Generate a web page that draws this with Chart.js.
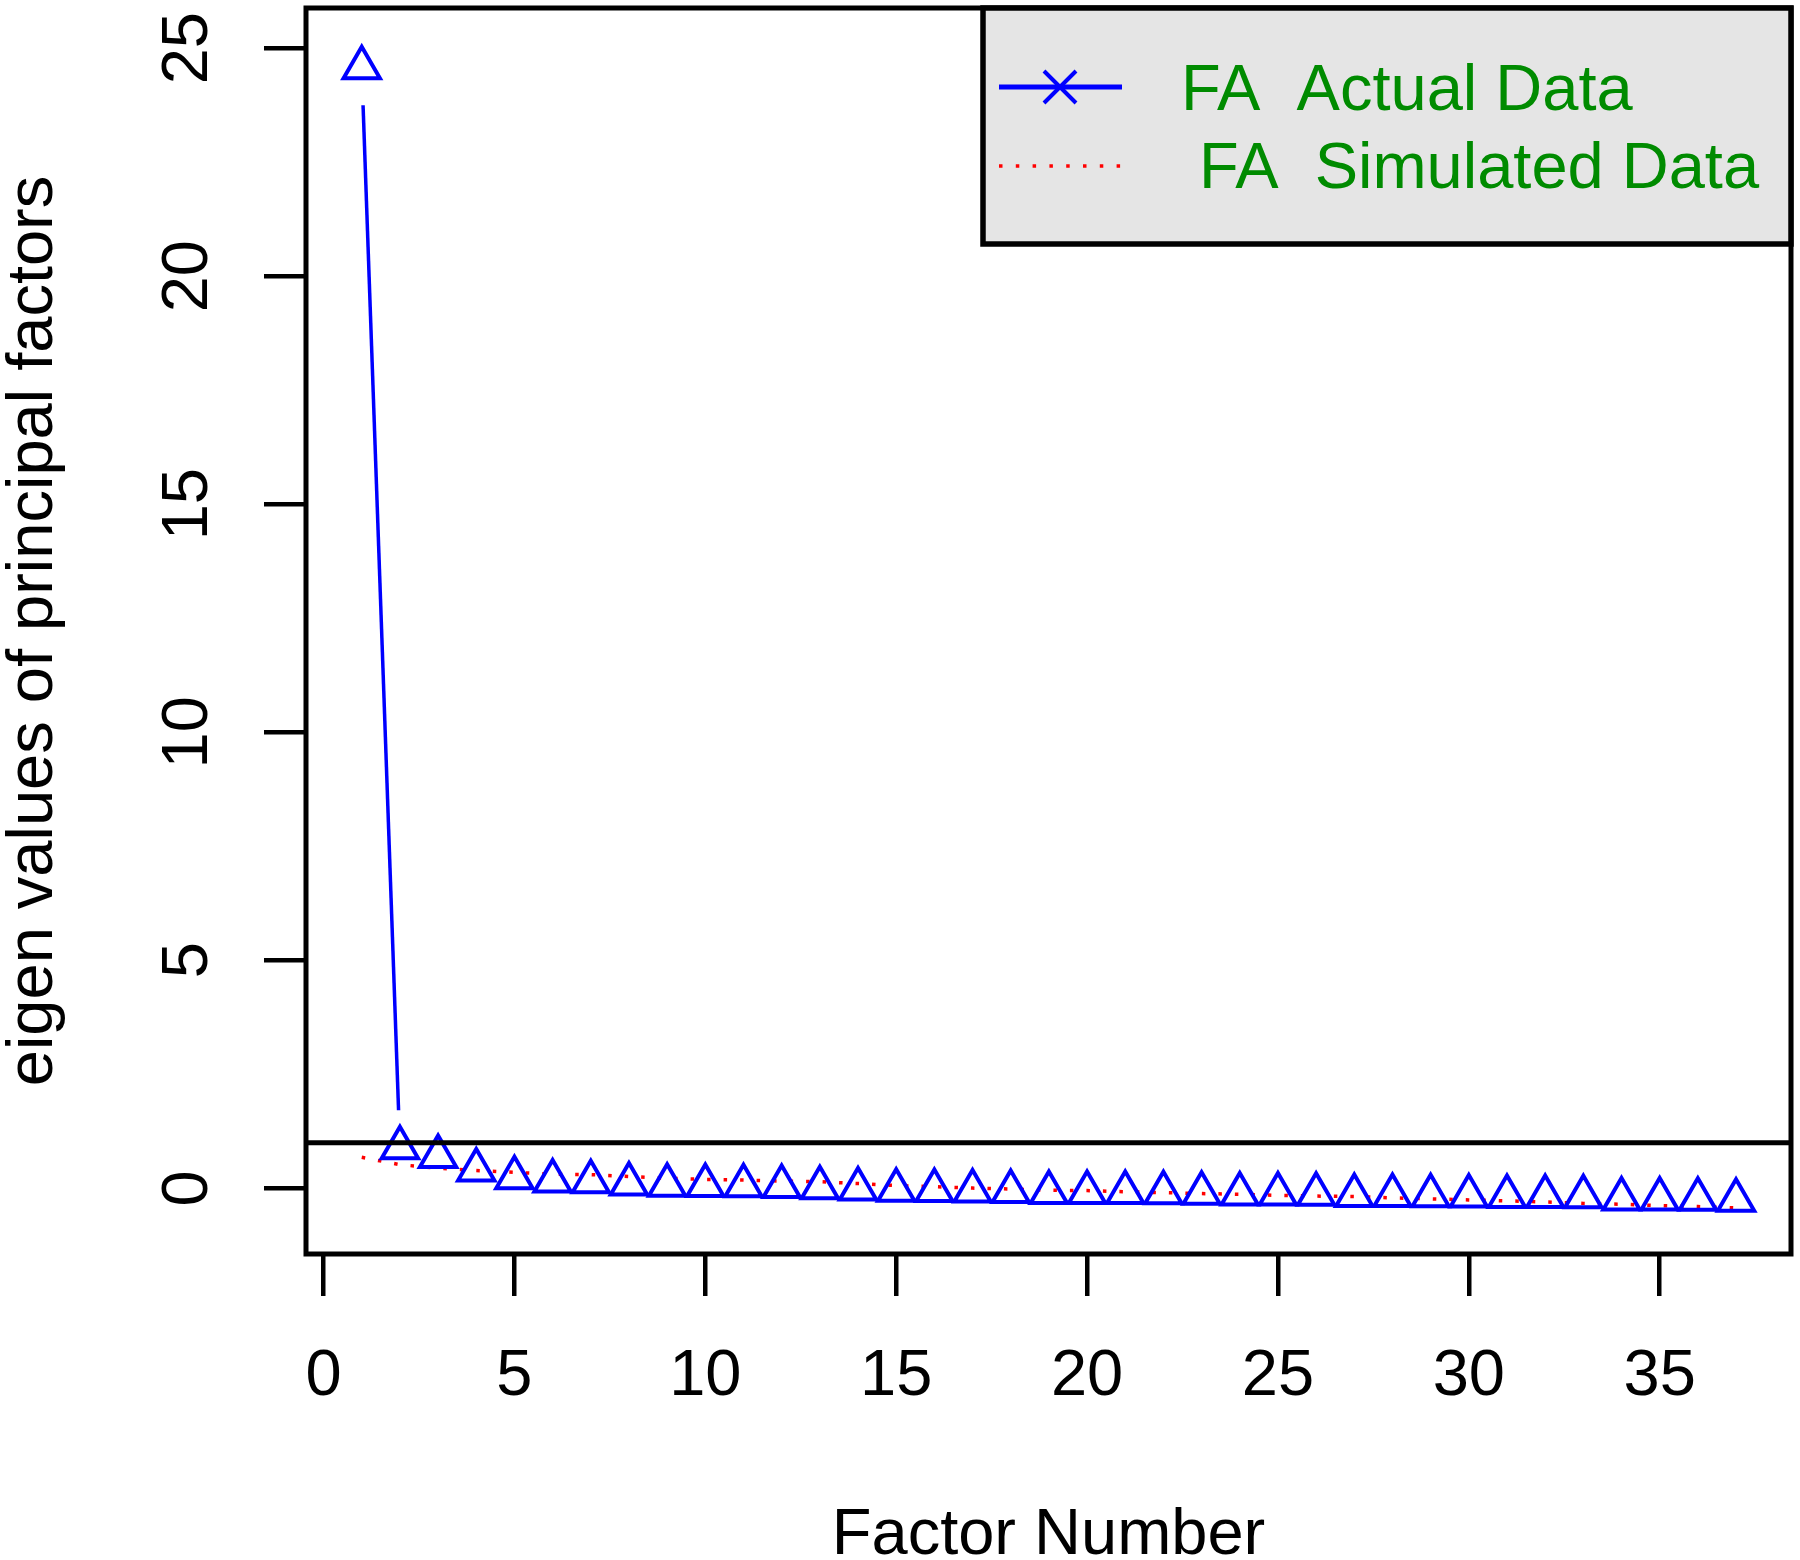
<!DOCTYPE html>
<html>
<head>
<meta charset="utf-8">
<script src="https://cdn.jsdelivr.net/npm/chart.js@4.4.1/dist/chart.umd.min.js"></script>
<style>
html,body{margin:0;padding:0;background:#ffffff;}
#wrap{width:1800px;height:1560px;}
</style>
</head>
<body>
<div id="wrap"><canvas id="c" width="1800" height="1560"></canvas></div>
<script>
// ---- data ----
const factorNumbers = [1,2,3,4,5,6,7,8,9,10,11,12,13,14,15,16,17,18,19,20,21,22,23,24,25,26,27,28,29,30,31,32,33,34,35,36,37];
const actualEigen = [24.57,0.89,0.70,0.40,0.23,0.16,0.145,0.095,0.07,0.06,0.055,0.04,0.015,-0.015,-0.04,-0.05,-0.06,-0.07,-0.09,-0.09,-0.09,-0.095,-0.11,-0.125,-0.125,-0.13,-0.16,-0.16,-0.165,-0.17,-0.18,-0.18,-0.185,-0.235,-0.235,-0.24,-0.26];
const simulatedEigen = [0.68,0.52,0.44,0.39,0.35,0.31,0.30,0.26,0.22,0.195,0.18,0.16,0.145,0.105,0.06,0.035,0.005,-0.015,-0.04,-0.05,-0.075,-0.095,-0.115,-0.13,-0.155,-0.17,-0.18,-0.21,-0.23,-0.255,-0.275,-0.30,-0.33,-0.35,-0.38,-0.40,-0.43];
const xTickValues = [0,5,10,15,20,25,30,35];
const yTickValues = [0,5,10,15,20,25];
const seriesLabels = ['FA  Actual Data', ' FA  Simulated Data'];
const xTitle = 'Factor Number';
const yTitle = 'eigen values of principal factors';
const referenceLevel = 1;
const xRange = [-0.46, 38.44];
const yRange = [-1.44, 25.88];

// ---- styling ----
const FONT = "'Liberation Sans', Arial, Helvetica, sans-serif";
const BLUE = '#0000ff';
const RED = '#ff0000';
const GREEN = '#008b00';

const rStyle = {
  id: 'rStyle',
  afterDatasetsDraw(chart) {
    const {ctx, chartArea: a, scales: {y}} = chart;
    ctx.save();
    // type "b" connecting segments with gaps around the points
    const meta = chart.getDatasetMeta(0);
    const gap = 37.5;
    ctx.strokeStyle = BLUE; ctx.lineWidth = 3.5; ctx.lineCap = 'butt';
    for (let i = 0; i < meta.data.length - 1; i++) {
      const p = meta.data[i], q = meta.data[i + 1];
      const dx = q.x - p.x, dy = q.y - p.y, L = Math.hypot(dx, dy);
      if (L > 2 * gap) {
        const ux = dx / L, uy = dy / L;
        ctx.beginPath();
        ctx.moveTo(p.x + ux * gap, p.y + uy * gap);
        ctx.lineTo(q.x - ux * gap, q.y - uy * gap);
        ctx.stroke();
      }
    }
    // reference line
    const yr = y.getPixelForValue(referenceLevel);
    ctx.strokeStyle = '#000'; ctx.lineWidth = 5;
    ctx.beginPath(); ctx.moveTo(a.left, yr); ctx.lineTo(a.right, yr); ctx.stroke();
    // plot box
    ctx.strokeRect(a.left, a.top, a.right - a.left, a.bottom - a.top);
    // legend
    const lw = 808, lh = 236;
    const lx = a.right - lw, ly = a.top;
    ctx.fillStyle = '#e5e5e5';
    ctx.fillRect(lx, ly, lw, lh);
    ctx.lineWidth = 5.5; ctx.strokeStyle = '#000';
    ctx.strokeRect(lx, ly, lw, lh);
    const r1 = ly + 79, r2 = ly + 158;
    // row 1: blue line with x marker
    ctx.strokeStyle = BLUE; ctx.lineWidth = 5;
    ctx.beginPath(); ctx.moveTo(lx + 16, r1); ctx.lineTo(lx + 139, r1); ctx.stroke();
    const cx = lx + 77, h = 16;
    ctx.lineWidth = 4;
    ctx.beginPath();
    ctx.moveTo(cx - h, r1 - h); ctx.lineTo(cx + h, r1 + h);
    ctx.moveTo(cx - h, r1 + h); ctx.lineTo(cx + h, r1 - h);
    ctx.stroke();
    // row 2: red dotted
    ctx.strokeStyle = RED; ctx.lineWidth = 3.5;
    ctx.setLineDash([3.5, 13.3]);
    ctx.beginPath(); ctx.moveTo(lx + 16, r2); ctx.lineTo(lx + 139, r2); ctx.stroke();
    ctx.setLineDash([]);
    // text
    ctx.fillStyle = GREEN;
    ctx.font = '65px ' + FONT;
    ctx.textAlign = 'left'; ctx.textBaseline = 'alphabetic';
    ctx.fillText(chart.data.datasets[0].label, lx + 198, ly + 102);
    ctx.fillText(chart.data.datasets[1].label, lx + 198, ly + 180);
    ctx.restore();
  }
};

new Chart(document.getElementById('c'), {
  type: 'line',
  data: {
    datasets: [
      {
        label: seriesLabels[0],
        data: factorNumbers.map((f, i) => ({x: f, y: actualEigen[i]})),
        showLine: false,
        pointStyle: 'triangle',
        pointRadius: 21,
        pointBorderWidth: 4,
        pointBorderColor: BLUE,
        pointBackgroundColor: 'rgba(0,0,0,0)',
        borderColor: BLUE
      },
      {
        label: seriesLabels[1],
        data: factorNumbers.map((f, i) => ({x: f, y: simulatedEigen[i]})),
        borderColor: RED,
        borderWidth: 3.5,
        borderDash: [3.5, 13],
        borderCapStyle: 'butt',
        pointRadius: 0,
        tension: 0,
        fill: false
      }
    ]
  },
  options: {
    responsive: false,
    animation: false,
    devicePixelRatio: 1,
    events: [],
    layout: {autoPadding: false, padding: {left: 0, top: 8, right: 9, bottom: 0}},
    plugins: {legend: {display: false}, tooltip: {enabled: false}, title: {display: false}},
    scales: {
      x: {
        type: 'linear', position: 'bottom', min: xRange[0], max: xRange[1],
        afterBuildTicks(s) { s.ticks = xTickValues.map(v => ({value: v})); },
        afterFit(s) { s.height = 306; s.paddingLeft = 0; s.paddingRight = 0; s.paddingTop = 0; s.paddingBottom = 0; },
        grid: {drawOnChartArea: false, drawTicks: true, tickLength: 42, tickWidth: 4.5, tickColor: '#000', lineWidth: 4.5, color: '#000'},
        border: {display: false},
        ticks: {autoSkip: false, maxRotation: 0, minRotation: 0, padding: 42, color: '#000', font: {family: FONT, size: 65, lineHeight: 1.2}},
        title: {display: true, text: xTitle, color: '#000', font: {family: FONT, size: 65, lineHeight: 0.74}, padding: {top: 0, bottom: 0}}
      },
      y: {
        type: 'linear', position: 'left', min: yRange[0], max: yRange[1],
        afterBuildTicks(s) { s.ticks = yTickValues.map(v => ({value: v})); },
        afterFit(s) { s.width = 306; s.paddingLeft = 0; s.paddingRight = 0; s.paddingTop = 0; s.paddingBottom = 0; },
        grid: {drawOnChartArea: false, drawTicks: true, tickLength: 42, tickWidth: 4.5, tickColor: '#000', lineWidth: 4.5, color: '#000'},
        border: {display: false},
        ticks: {autoSkip: false, minRotation: 90, maxRotation: 90, crossAlign: 'center', padding: 39, color: '#000', font: {family: FONT, size: 65, lineHeight: 1.2}},
        title: {display: true, text: yTitle, color: '#000', font: {family: FONT, size: 65, lineHeight: 1}, padding: {top: 2, bottom: 0}}
      }
    }
  },
  plugins: [rStyle]
});
</script>
</body>
</html>
